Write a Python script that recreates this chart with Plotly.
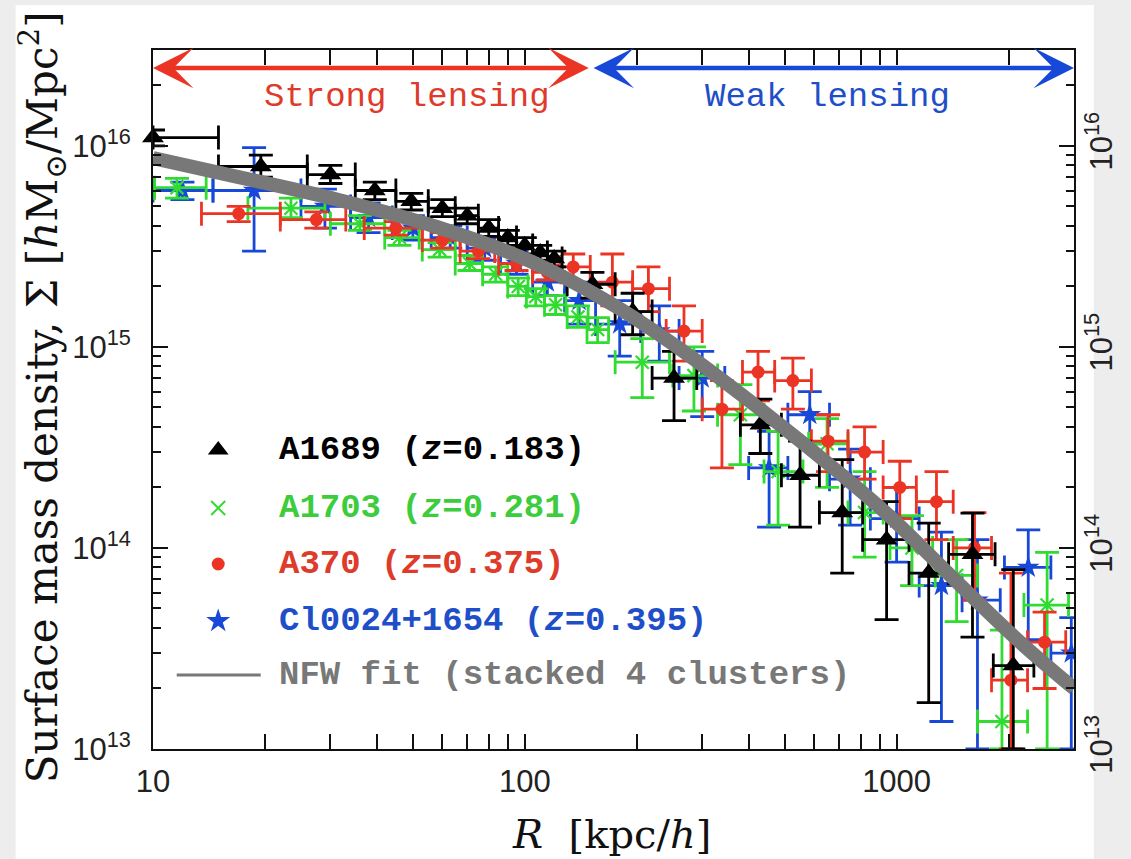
import numpy as np
import plotly.graph_objects as go

# ---------------- data ----------------
# A1689 (black triangles)
R_a1689   = [10, 19.5, 30, 39.5, 49.5, 60, 70, 80, 90, 100, 110, 120, 152, 195, 252, 430, 550, 714, 940, 1220, 1600, 2060]
Rlo_a1689 = [10, 15, 26, 35, 45, 55, 65, 75, 85, 95, 105, 115, 130, 175, 220, 380, 490, 620, 810, 1080, 1380, 1820]
Rhi_a1689 = [15, 26, 35, 45, 55, 65, 75, 85, 95, 105, 115, 126, 175, 220, 290, 490, 620, 810, 1080, 1380, 1840, 2340]
S_a1689   = [1.10e16, 7.9e15, 7.2e15, 6.0e15, 5.3e15, 4.9e15, 4.5e15, 3.9e15, 3.5e15, 3.2e15, 2.95e15, 2.75e15,
             2.05e15, 1.5e15, 7.0e14, 4.1e14, 2.3e14, 1.5e14, 1.1e14, 7.5e13, 9.3e13, 2.6e13]
Slo_a1689 = [1.0e16, 7.0e15, 6.5e15, 5.4e15, 4.8e15, 4.45e15, 4.1e15, 3.55e15, 3.2e15, 2.9e15, 2.7e15, 2.5e15,
             1.75e15, 1.15e15, 4.3e14, 2.95e14, 1.27e14, 7.5e13, 4.4e13, 1.7e13, 3.6e13, 1.0e13]
Shi_a1689 = [1.2e16, 9.0e15, 8.0e15, 6.6e15, 5.8e15, 5.4e15, 4.9e15, 4.3e15, 3.8e15, 3.5e15, 3.2e15, 3.0e15,
             2.35e15, 1.85e15, 9.5e14, 5.5e14, 3.4e14, 2.75e14, 1.7e14, 1.33e14, 1.49e14, 7.8e13]

# A1703 (green crosses)
R_a1703   = [11.6, 23.5, 36, 46, 59, 71, 83.5, 96, 107, 121, 139, 157, 207, 285, 380, 480, 650, 820, 1100, 1450, 1920, 2540]
Rlo_a1703 = [10.1, 18, 30, 42, 53, 65, 77, 90, 101, 113, 130, 147, 175, 250, 330, 440, 580, 740, 960, 1270, 1650, 2200]
Rhi_a1703 = [13.9, 29, 42, 52, 65, 77, 90, 102, 113, 129, 148, 168, 245, 330, 440, 560, 740, 920, 1250, 1650, 2250, 2900]
S_a1703   = [6.2e15, 4.9e15, 4.1e15, 3.5e15, 3.05e15, 2.6e15, 2.3e15, 2.0e15, 1.78e15, 1.62e15, 1.41e15, 1.22e15,
             8.4e14, 7.2e14, 4.6e14, 2.4e14, 3.3e14, 1.5e14, 1.0e14, 7.3e13, 1.37e13, 5.2e13]
Slo_a1703 = [5.5e15, 4.4e15, 3.8e15, 3.2e15, 2.8e15, 2.4e15, 2.1e15, 1.8e15, 1.6e15, 1.45e15, 1.25e15, 1.05e15,
             5.6e14, 4.8e14, 2.6e14, 1.3e14, 2.0e14, 9.0e13, 6.5e13, 4.3e13, 1.0e13, 1.0e13]
Shi_a1703 = [6.9e15, 5.5e15, 4.5e15, 3.8e15, 3.3e15, 2.85e15, 2.5e15, 2.2e15, 1.95e15, 1.8e15, 1.6e15, 1.4e15,
             1.1e15, 1.0e15, 6.5e14, 3.8e14, 4.4e14, 2.4e14, 1.45e14, 1.1e14, 3.9e13, 9.5e13]

# A370 (red circles)
R_a370   = [17, 27.5, 45, 60, 75, 95, 115, 135, 172, 215, 268, 339, 424, 526, 654, 820, 1020, 1280, 1620, 2030, 2500]
Rlo_a370 = [13.5, 22, 37, 53, 67, 85, 105, 125, 150, 195, 240, 300, 385, 470, 590, 740, 920, 1130, 1420, 1800, 2250]
Rhi_a370 = [22, 33, 53, 67, 83, 105, 125, 150, 195, 245, 300, 385, 470, 590, 740, 920, 1130, 1420, 1800, 2250, 2850]
S_a370   = [4.6e15, 4.3e15, 3.9e15, 3.4e15, 3.0e15, 2.6e15, 2.35e15, 2.5e15, 2.1e15, 1.95e15, 1.2e15, 4.9e14,
            7.5e14, 6.8e14, 3.4e14, 3.0e14, 2.0e14, 1.7e14, 1.0e14, 2.2e13, 3.4e13]
Slo_a370 = [4.2e15, 3.9e15, 3.6e15, 3.1e15, 2.75e15, 2.4e15, 2.15e15, 2.1e15, 1.6e15, 1.5e15, 8.5e14, 2.5e14,
            5.4e14, 4.9e14, 2.4e14, 2.2e14, 1.4e14, 1.1e14, 5.5e13, 1.0e13, 2.0e13]
Shi_a370 = [5.0e15, 4.7e15, 4.2e15, 3.7e15, 3.25e15, 2.85e15, 2.55e15, 2.9e15, 2.9e15, 2.5e15, 1.6e15, 6.8e14,
            9.5e14, 8.8e14, 4.6e14, 4.0e14, 2.7e14, 2.4e14, 1.5e14, 7.5e13, 4.8e13]

# Cl0024+1654 (blue stars)
R_cl0024   = [12, 18.7, 29, 38, 50, 63, 78, 95, 115, 140, 180, 230, 300, 454, 584, 750, 1000, 1320, 1650, 2260, 2950]
Rlo_cl0024 = [10, 14.5, 25, 34, 44, 56, 70, 86, 105, 128, 155, 205, 260, 400, 510, 660, 850, 1150, 1500, 1950, 2600]
Rhi_cl0024 = [14.5, 25, 34, 44, 56, 70, 86, 105, 128, 155, 205, 260, 345, 510, 660, 850, 1150, 1500, 1900, 2600, 3300]
S_cl0024   = [6.0e15, 6.0e15, 5.0e15, 4.4e15, 3.9e15, 3.5e15, 3.1e15, 2.6e15, 2.1e15, 1.7e15, 1.3e15, 1.2e15,
              7.0e14, 2.5e14, 4.6e14, 2.2e14, 1.4e14, 6.5e13, 5.5e13, 8.0e13, 3.0e13]
Slo_cl0024 = [5.4e15, 3.0e15, 3.9e15, 3.7e15, 3.4e15, 3.1e15, 2.7e15, 2.3e15, 1.8e15, 1.3e15, 9.0e14, 8.5e14,
              4.5e14, 1.27e14, 3.3e14, 1.3e14, 8.5e13, 1.37e13, 1.0e13, 3.5e13, 1.0e13]
Shi_cl0024 = [6.6e15, 9.8e15, 6.1e15, 5.2e15, 4.5e15, 4.0e15, 3.5e15, 3.0e15, 2.4e15, 2.1e15, 1.7e15, 1.6e15,
              9.5e14, 3.8e14, 6.0e14, 3.1e14, 2.0e14, 1.2e14, 1.1e14, 1.23e14, 4.5e13]

# NFW fit (stacked 4 clusters), points read along the grey band
R_nfw = [10, 17, 31.4, 58, 107, 175, 257, 430, 714, 953, 1427, 2148, 3000]
S_nfw = [8.7e15, 7.0e15, 5.4e15, 3.95e15, 2.6e15, 1.6e15, 1.0e15, 4.9e14, 2.3e14, 1.45e14, 7.0e13, 3.4e13, 2.0e13]

# axis & annotation values
x_range = [10, 3000]
y_range = [1e13, 3e16]
x_major = [10, 100, 1000]
x_major_text = ["10", "100", "1000"]
x_minor = [20, 30, 40, 50, 60, 70, 80, 90, 200, 300, 400, 500, 600, 700, 800, 900, 2000, 3000]
y_major = [1e13, 1e14, 1e15, 1e16]
y_major_text = ["10<sup>13</sup>", "10<sup>14</sup>", "10<sup>15</sup>", "10<sup>16</sup>"]
y_minor = [m * 10.0 ** e for e in (13, 14, 15) for m in range(2, 10)] + [2e16, 3e16]
R_boundary = 150  # strong / weak lensing boundary

# ---------------- styling ----------------
BLACK = "#000000"
GREEN = "#2fdc2f"
RED = "#ec3424"
BLUE = "#1848d8"
GREY = "#787878"
GREEN_TXT = "#3ccc3c"
RED_TXT = "#de3b2a"
BLUE_TXT = "#1f4fc8"

W, H = 1131, 859
ML, MR, MT, MB = 153, 46, 50, 110
PW, PH = W - ML - MR, H - MT - MB

MONO = "Liberation Mono, Courier New, monospace"
SERIF = "DejaVu Serif, Liberation Serif, serif"
SANS = "Liberation Sans, Arial, sans-serif"


def px_x(px):
    return (px - ML) / PW


def px_y(py):
    return (H - MB - py) / PH


def logfrac(v, rng):
    return (np.log10(v) - np.log10(rng[0])) / (np.log10(rng[1]) - np.log10(rng[0]))


def errtrace(R, Rlo, Rhi, S, Slo, Shi, color, symbol, size, mline=None, clip=True):
    R = np.array(R, float); S = np.array(S, float)
    marker = dict(symbol=symbol, size=size, color=color)
    if mline:
        marker["line"] = dict(color=color, width=mline)
    return go.Scatter(
        x=R, y=S, mode="markers", marker=marker, showlegend=False, cliponaxis=clip,
        hoverinfo="skip",
        error_x=dict(type="data", symmetric=False, array=np.array(Rhi) - R,
                     arrayminus=R - np.array(Rlo), color=color, thickness=2.8, width=12),
        error_y=dict(type="data", symmetric=False, array=np.array(Shi) - S,
                     arrayminus=S - np.array(Slo), color=color, thickness=2.8, width=12),
    )


fig = go.Figure()
fig.add_trace(errtrace(R_cl0024, Rlo_cl0024, Rhi_cl0024, S_cl0024, Slo_cl0024, Shi_cl0024, BLUE, "star", 17))
fig.add_trace(errtrace(R_a1703, Rlo_a1703, Rhi_a1703, S_a1703, Slo_a1703, Shi_a1703, GREEN, "x-thin-open", 13, mline=2.2))
fig.add_trace(errtrace(R_a370, Rlo_a370, Rhi_a370, S_a370, Slo_a370, Shi_a370, RED, "circle", 13))
fig.add_trace(errtrace(R_a1689, Rlo_a1689, Rhi_a1689, S_a1689, Slo_a1689, Shi_a1689, BLACK, "triangle-up", 19, clip=False))
fig.add_trace(go.Scatter(x=R_nfw, y=S_nfw, mode="lines", line=dict(color=GREY, width=14, shape="spline"),
                         showlegend=False, hoverinfo="skip"))
# invisible trace so that the right-hand axis is drawn
fig.add_trace(go.Scatter(x=R_nfw, y=S_nfw, mode="lines", line=dict(width=0), opacity=0,
                         yaxis="y2", showlegend=False, hoverinfo="skip"))

# legend symbols on a hidden unit axis
leg_rows = [450, 508, 564, 621, 675]
leg_sym = [("triangle-up", BLACK, 18, None), ("x-thin-open", GREEN, 14, 2), ("circle", RED, 13, None), ("star", BLUE, 18, None)]
for row, (sym, col, sz, lw) in zip(leg_rows[:4], leg_sym):
    mk = dict(symbol=sym, color=col, size=sz)
    if lw:
        mk["line"] = dict(color=col, width=lw)
    fig.add_trace(go.Scatter(x=[px_x(219)], y=[px_y(row)], mode="markers", marker=mk,
                             xaxis="x3", yaxis="y3", showlegend=False, hoverinfo="skip"))
fig.add_trace(go.Scatter(x=[px_x(177), px_x(262)], y=[px_y(leg_rows[4])] * 2, mode="lines",
                         line=dict(color=GREY, width=3), xaxis="x3", yaxis="y3",
                         showlegend=False, hoverinfo="skip"))

leg_txt = [("A1689 (<i>z</i>=0.183)", BLACK), ("A1703 (<i>z</i>=0.281)", GREEN_TXT),
           ("A370 (<i>z</i>=0.375)", RED_TXT), ("Cl0024+1654 (<i>z</i>=0.395)", BLUE_TXT),
           ("NFW fit (stacked 4 clusters)", GREY)]
annotations = []
for row, (t, c) in zip(leg_rows, leg_txt):
    annotations.append(dict(text="<b>" + t + "</b>", x=px_x(278), y=px_y(row), xref="paper", yref="paper",
                            xanchor="left", yanchor="middle", showarrow=False,
                            font=dict(family=MONO, size=34, color=c)))

# lensing regime arrows (drawn on the hidden unit axes x3/y3)
xb = logfrac(R_boundary, x_range)
ya = px_y(68)
arrow_common = dict(xref="x3", yref="y3", axref="x3", ayref="y3", text="", showarrow=True,
                    arrowhead=3, startarrowhead=3, arrowside="end+start",
                    arrowsize=1.5, startarrowsize=1.5, arrowwidth=4.5)
annotations.append(dict(**arrow_common, x=0, y=ya, ax=xb, ay=ya, arrowcolor=RED))
annotations.append(dict(**arrow_common, x=1, y=ya, ax=xb + 0.002, ay=ya, arrowcolor=BLUE))
annotations.append(dict(text="Strong lensing", x=px_x(410), y=px_y(97), xref="paper", yref="paper",
                        xanchor="center", yanchor="middle",
                        showarrow=False, font=dict(family=MONO, size=34, color=RED_TXT)))
annotations.append(dict(text="Weak lensing", x=px_x(836), y=px_y(97), xref="paper", yref="paper",
                        xanchor="center", yanchor="middle",
                        showarrow=False, font=dict(family=MONO, size=34, color=BLUE_TXT)))

# axis titles
annotations.append(dict(text="Surface mass density, Σ [<i>h</i>M<sub>⊙</sub>/Mpc<sup>2</sup>]",
                        x=px_x(41), y=px_y(397), xref="paper", yref="paper", textangle=-90,
                        xanchor="center", yanchor="middle",
                        showarrow=False, font=dict(family=SERIF, size=42, color="#111")))
annotations.append(dict(text="<i>R</i>  [kpc/<i>h</i>]", x=px_x(617), y=px_y(834), xref="paper", yref="paper",
                        xanchor="center", yanchor="middle",
                        showarrow=False, font=dict(family=SERIF, size=40, color="#111")))

axis_common = dict(type="log", showgrid=False, zeroline=False, ticks="inside", ticklen=15, tickwidth=2,
                   tickcolor="#111", showline=True, linecolor="#111", linewidth=2)

fig.update_layout(
    width=W, height=H, margin=dict(l=ML, r=MR, t=MT, b=MB, pad=0),
    paper_bgcolor="#ededed", plot_bgcolor="white",
    xaxis=dict(**axis_common, range=[np.log10(x_range[0]), np.log10(x_range[1])], mirror="allticks",
               tickmode="array", tickvals=x_major, ticktext=x_major_text,
               tickfont=dict(family=SANS, size=31, color="#222"), ticklabelstandoff=4,
               minor=dict(ticks="inside", ticklen=8, tickwidth=1.5, tickcolor="#111",
                          tickmode="array", tickvals=x_minor, showgrid=False)),
    yaxis=dict(**axis_common, range=[np.log10(y_range[0]), np.log10(y_range[1])], mirror="allticks",
               tickmode="array", tickvals=y_major, ticktext=y_major_text,
               tickfont=dict(family=SANS, size=31, color="#222"), ticklabelstandoff=14,
               minor=dict(ticks="inside", ticklen=8, tickwidth=1.5, tickcolor="#111",
                          tickmode="array", tickvals=y_minor, showgrid=False)),
    yaxis2=dict(type="log", overlaying="y", side="right", anchor="x",
                range=[np.log10(y_range[0]), np.log10(y_range[1])], showgrid=False, zeroline=False,
                showline=False, ticks="", tickmode="array", tickvals=y_major, ticktext=y_major_text,
                tickangle=-90, tickfont=dict(family=SANS, size=31, color="#222"), ticklabelstandoff=6),
    xaxis3=dict(overlaying="x", range=[0, 1], visible=False),
    yaxis3=dict(overlaying="y", range=[0, 1], visible=False),
    annotations=annotations,
    shapes=[dict(type="rect", xref="paper", yref="paper", x0=px_x(14), x1=px_x(1105),
                 y0=px_y(862), y1=px_y(5), fillcolor="white", line=dict(width=0), layer="below")],
)

fig.write_html("out.html")
